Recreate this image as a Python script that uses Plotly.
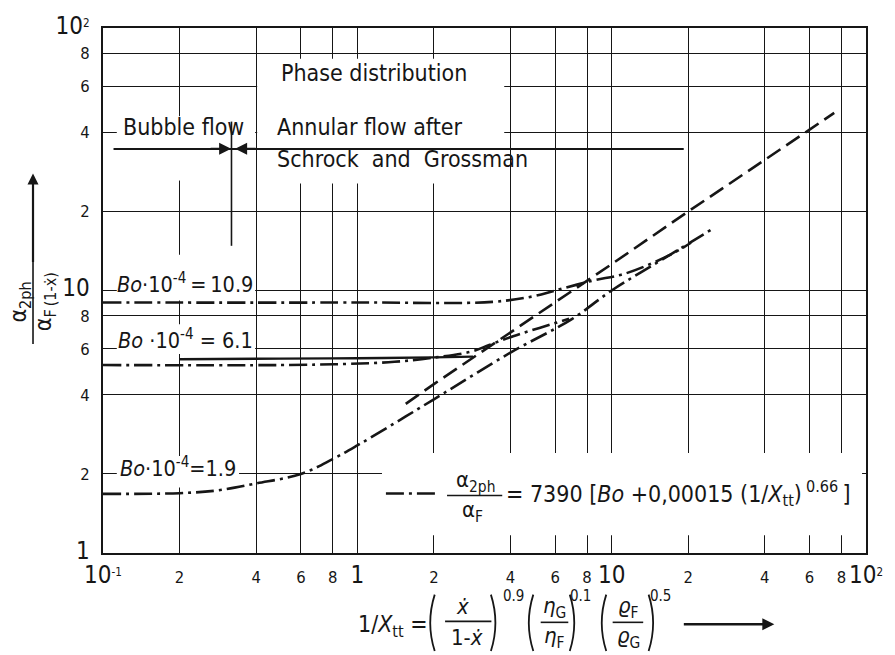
import plotly.graph_objects as go

# ---------------------------------------------------------------------------
# Data: abscissa 1/X_tt, ordinate alpha_2ph / alpha_F(1-x)
# ---------------------------------------------------------------------------
bo109_x = [0.1, 1.0, 3.4, 4.9, 6.0, 8.4, 11.3, 16.8, 20.5]
bo109_y = [9.0, 9.0, 9.05, 9.5, 10.0, 10.9, 11.6, 13.6, 15.2]

bo61_x = [0.1, 0.5, 0.9, 1.4, 2.0, 2.8, 3.3, 4.1, 5.2, 6.8]
bo61_y = [5.2, 5.2, 5.25, 5.35, 5.55, 5.85, 6.2, 6.7, 7.2, 7.8]

bo61_solid_x = [0.2, 0.5, 1.0, 2.0, 2.85]
bo61_solid_y = [5.47, 5.5, 5.52, 5.56, 5.6]

bo19_x = [0.1, 0.2, 0.28, 0.4, 0.6, 0.8, 1.0, 1.4, 2.0, 4.0, 7.0, 10.0, 17.0, 25.0]
bo19_y = [1.68, 1.69, 1.73, 1.84, 2.0, 2.28, 2.57, 3.12, 3.85, 5.8, 7.8, 10.0, 13.7, 17.2]

annular_x = [1.55, 2.0, 10.0, 20.0, 60.0, 75.0]
annular_y = [3.7, 4.4, 12.6, 20.0, 41.0, 47.5]

# flow-regime boundary (bubble flow | annular flow)
boundary_x = [0.32, 0.32]
boundary_y = [14.8, 44.0]
regime_x = [0.11, 19.2]
regime_y = [34.6, 34.6]

# axis ticks
x_tickvals = [0.1, 0.2, 0.4, 0.6, 0.8, 1, 2, 4, 6, 8, 10, 20, 40, 60, 80, 100]
y_tickvals = [1, 2, 4, 6, 8, 10, 20, 40, 60, 80, 100]

INK = "#161616"
FONT = "Liberation Sans Narrow, DejaVu Sans Condensed, Arial Narrow, sans-serif"
BIG = 24


def big(s):
    return f'<span style="font-size:{BIG}px">{s}</span>'


x_ticktext = [big("10") + "<sup>-1</sup>", "2", "4", "6", "8", big("1"),
              "2", "4", "6", "8", big("10"), "2", "4", "6", "8",
              big("10") + "<sup>2</sup>"]
y_ticktext = [big("1"), "2", "4", "6", "8", big("10"), "2", "4", "6", "8",
              big("10") + "<sup>2</sup>"]

# plot-area geometry in pixels (used for placing texts and masks)
L, T, W, H = 103, 23, 774, 530
X_LOG = (-1.0, 2.0)
Y_LOG = (0.0, 2.0)


def px(x):
    return (x - L) / W


def py(y):
    return (T + H - y) / H


def data_x(x):
    return 10 ** (X_LOG[0] + (X_LOG[1] - X_LOG[0]) * px(x))


def data_y(y):
    return 10 ** (Y_LOG[0] + (Y_LOG[1] - Y_LOG[0]) * py(y))


DASHDOT = "18px,5px,3px,5px"

fig = go.Figure()

# white patches that interrupt the grid behind the labels
masks = [
    (259.4, 510, 54, 180),   # phase distribution box
    (117, 257.3, 118, 139),  # bubble flow label
    (178, 184, 112, 177),    # gap in the 0.2 grid line
    (117, 257.3, 252, 298),  # Bo 10.9 label
    (117, 257.3, 322, 352),  # Bo 6.1 label
    (117, 241, 455, 487),    # Bo 1.9 label
    (386, 873, 452, 535),    # equation
]
for x0, x1, y0, y1 in masks:
    xs = [data_x(x0), data_x(x1), data_x(x1), data_x(x0), data_x(x0)]
    ys = [data_y(y0), data_y(y0), data_y(y1), data_y(y1), data_y(y0)]
    fig.add_trace(go.Scatter(x=xs, y=ys, mode="lines", fill="toself",
                             fillcolor="white", line=dict(width=0, color="white"),
                             hoverinfo="skip", showlegend=False))


def line(x, y, dash="solid", width=2.6, spline=True):
    fig.add_trace(go.Scatter(
        x=x, y=y, mode="lines", hoverinfo="skip", showlegend=False,
        line=dict(color=INK, width=width, dash=dash,
                  shape="spline" if spline else "linear", smoothing=1.0)))


line(bo109_x, bo109_y, DASHDOT)
line(bo61_x, bo61_y, DASHDOT)
line(bo61_solid_x, bo61_solid_y, "solid", 2.4)
line(bo19_x, bo19_y, DASHDOT)
line(annular_x, annular_y, "16px,7px", 2.6, spline=False)
line(boundary_x, boundary_y, "solid", 1.6, spline=False)
line(regime_x, regime_y, "solid", 1.8, spline=False)

shapes = []


def seg(x0, y0, x1, y1, width=1.6, dash="solid"):
    shapes.append(dict(type="line", xref="paper", yref="paper",
                       x0=px(x0), y0=py(y0), x1=px(x1), y1=py(y1),
                       line=dict(color=INK, width=width, dash=dash)))


def paren(xc, y0, y1, opening=True, bulge=7):
    s = 1 if opening else -1
    xe = xc + s * bulge / 2
    xm = xc - s * bulge * 0.8
    ym = (y0 + y1) / 2
    path = f"M {px(xe)},{py(y0)} Q {px(xm)},{py(ym)} {px(xe)},{py(y1)}"
    shapes.append(dict(type="path", xref="paper", yref="paper", path=path,
                       line=dict(color=INK, width=1.8)))


# legend sample for the correlation
seg(390, 493, 442, 493, 2.6, DASHDOT)
# fraction bars
seg(452, 495, 508, 495, 1.6)          # alpha_2ph / alpha_F
seg(450, 622, 497, 622, 1.6)          # x / (1-x)
seg(547, 623, 575, 623, 1.6)          # eta
seg(620, 623, 651, 623, 1.6)          # rho
seg(32, 258, 32, 342, 1.6)            # y-axis title
# parentheses of the Lockhart-Martinelli parameter
paren(436, 595, 652, True)
paren(500, 595, 652, False)
paren(536, 595, 652, True)
paren(580, 595, 652, False)
paren(610, 595, 652, True)
paren(660, 595, 652, False)

annotations = []


def text(s, x, y, size=23, xanchor="center", angle=0):
    annotations.append(dict(text=s, x=px(x), y=py(y), xref="paper", yref="paper",
                            showarrow=False, xanchor=xanchor, yanchor="middle",
                            textangle=angle,
                            font=dict(family=FONT, size=size, color=INK)))


def arrow(x_head, y_head, dx, dy, width=2.2, head=2, size=1.1):
    annotations.append(dict(text="", x=px(x_head), y=py(y_head), xref="paper",
                            yref="paper", ax=dx, ay=dy, showarrow=True,
                            arrowhead=head, arrowsize=size, arrowwidth=width,
                            arrowcolor=INK))


# regime texts
text("Phase distribution", 282, 68, 23, "left")
text("Annular flow after", 277, 123, 23, "left")
text("Schrock\u00a0 and\u00a0 Grossman", 277, 155, 23, "left")
text("Bubble flow", 121, 123, 23, "left")
arrow(233, 145, -22, 0, 2.4, 2, 1.0)
arrow(237, 145, 22, 0, 2.4, 2, 1.0)

# curve labels
text("<i>Bo</i>\u00b710<sup>-4</sup>\u202f=\u202f10.9", 257, 280, 21.5, "right")
text("<i>Bo</i>\u00a0\u00b710<sup>-4</sup>\u00a0=\u00a06.1", 257, 337, 21.5, "right")
text("<i>Bo</i>\u00b710<sup>-4</sup>=1.9", 118, 466, 21.5, "left")

# correlation
text("\u03b1<sub>2ph</sub>", 481, 481, 22)
text("\u03b1<sub>F</sub>", 478, 511, 22)
text("= 7390 [<i>Bo</i> +0,00015 (1/<i>X</i><sub>tt</sub>)\u2009<sup>0.66</sup>\u2009]",
     510, 493, 23, "left")

# y-axis title (rotated fraction)
text("\u03b1<sub>2ph</sub>", 19, 300, 23, angle=-90)
text("\u03b1<sub>F\u2009(1-\u1e8b)</sub>", 45, 299, 23, angle=-90)
arrow(32, 170, 0, 90, 2.2, 2, 1.0)

# x-axis title
text("1/<i>X</i><sub>tt</sub> =", 360, 627, 23, "left")
text("<i>\u1e8b</i>", 468, 607, 22)
text("1-<i>\u1e8b</i>", 472, 638, 22)
text("0.9", 519, 596, 15)
text("<i>\u03b7</i><sub>G</sub>", 561, 608, 22)
text("<i>\u03b7</i><sub>F</sub>", 561, 638, 22)
text("0.1", 587, 596, 15)
text("<i>\u03f1</i><sub>F</sub>", 636, 608, 22)
text("<i>\u03f1</i><sub>G</sub>", 636, 638, 22)
text("0.5", 669, 596, 15)
arrow(784, 625, -92, 0, 2.4, 2, 1.0)

axis_common = dict(type="log", showgrid=True, gridcolor=INK, gridwidth=1.3,
                   showline=True, linecolor=INK, linewidth=2, mirror=True,
                   ticks="", zeroline=False,
                   tickfont=dict(family=FONT, size=16.5, color=INK))

fig.update_layout(
    width=895, height=655,
    margin=dict(l=L, r=895 - L - W, t=T, b=655 - T - H),
    paper_bgcolor="white", plot_bgcolor="white",
    showlegend=False,
    xaxis=dict(range=list(X_LOG), tickvals=x_tickvals, ticktext=x_ticktext,
               tickangle=0, ticklabelstandoff=8, **axis_common),
    yaxis=dict(range=list(Y_LOG), tickvals=y_tickvals, ticktext=y_ticktext,
               ticklabelstandoff=8, **axis_common),
    shapes=shapes,
    annotations=annotations,
)

fig.write_html("out.html")
